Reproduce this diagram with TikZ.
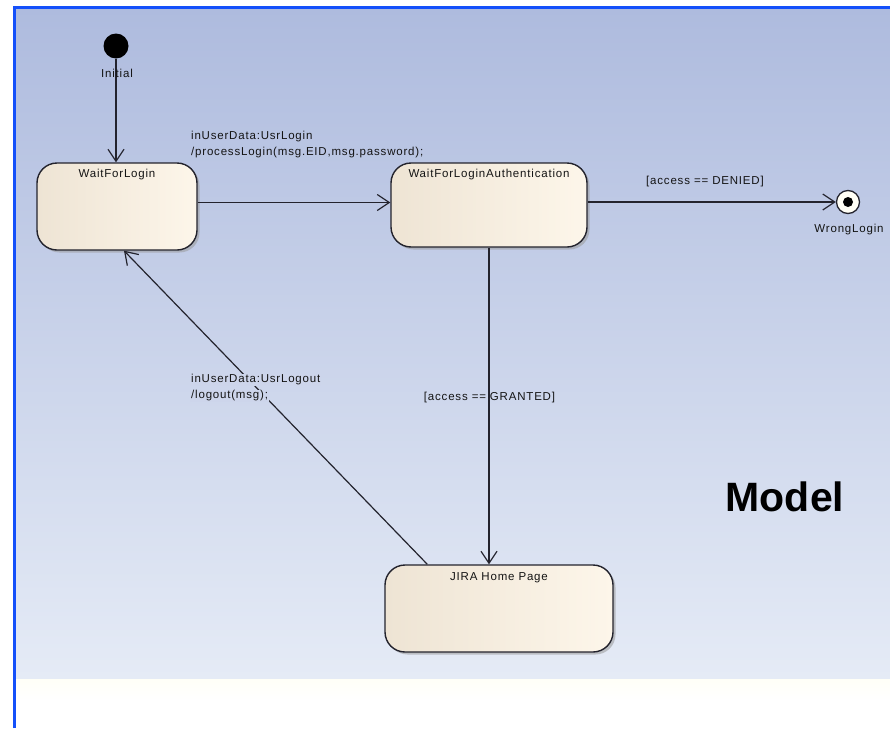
\documentclass[tikz,border=0pt]{standalone}
\usepackage{fontspec}
\setmainfont{Liberation Sans}
\newfontfamily\diagfont[LetterSpace=7]{Liberation Sans}
\usetikzlibrary{arrows.meta,shadows}

\definecolor{bgtop}{RGB}{174,187,222}
\definecolor{bgbot}{RGB}{229,235,246}
\definecolor{frameblue}{RGB}{20,80,250}
\definecolor{boxleft}{RGB}{238,228,212}
\definecolor{boxright}{RGB}{253,246,234}
\definecolor{edge}{RGB}{35,35,45}
\definecolor{ink}{RGB}{20,20,20}
\definecolor{labelbg}{RGB}{205,213,235}
\definecolor{cream}{RGB}{255,255,247}

\begin{document}
\begin{tikzpicture}[x=1pt,y=-1pt,
  state/.style={rectangle, rounded corners=20pt, draw=edge, line width=1.4pt,
    left color=boxleft, right color=boxright, inner sep=0pt,
    drop shadow={shadow xshift=2.5pt, shadow yshift=-2.5pt, fill=black!40, opacity=.55}},
  txt/.style={text=ink, inner sep=1pt, font=\diagfont\fontsize{11.5}{16}\selectfont},
  conn/.style={draw=edge, line width=1.2pt, -{Straight Barb[length=12pt,width=16pt,line width=1.2pt]}},
  pseudo/.style={circle, inner sep=0pt}]

% canvas, gradient panel and frame
\useasboundingbox (0,0) rectangle (890,728);
\fill[white] (0,0) rectangle (890,728);
\fill[top color=cream, bottom color=white] (14,678) rectangle (890,700);
\fill[top color=bgtop, bottom color=bgbot] (14,8) rectangle (890,678);
\draw[frameblue, line width=3pt] (14.5,728) -- (14.5,7.5) -- (890,7.5);

% states
\node[state, minimum width=160pt, minimum height=87pt] (wfl) at (117,206.5) {};
\node[state, minimum width=196pt, minimum height=84pt] (wfla) at (489,205) {};
\node[state, minimum width=228pt, minimum height=87pt] (jira) at (499,608.5) {};

\node[txt] (wfl-t) at (117,175) {WaitForLogin};
\node[txt] (wfla-t) at (489,175) {WaitForLoginAuthentication};
\node[txt] (jira-t) at (499,578) {JIRA Home Page};

% pseudo states
\node[pseudo, fill=black, minimum size=25pt] (init) at (116,46) {};
\node[pseudo, draw=edge, line width=1.3pt, fill=white!96!yellow, minimum size=23pt] (final) at (848,202) {};
\node[pseudo, fill=black, minimum size=10pt] (final-dot) at (final) {};

% transitions
\draw[conn] (init.south) -- (init.south |- wfl.north);
\draw[conn] ([yshift=4pt]wfl.east) -- ([yshift=4pt]wfl.east -| wfla.west);
\draw[conn] (wfla.east |- final) -- (final.west);
\draw[conn] (wfla.south) -- (wfla.south |- jira.north);
\draw[conn] ([xshift=43pt]jira.north west) -- ([xshift=7pt]wfl.south);

% labels
\node[txt] (init-l) at (117,73) {Initial};
\node[txt] (final-l) at (849,230) {WrongLogin};
\node[txt, anchor=west] (login-a) at (190,137) {inUserData:UsrLogin};
\node[txt, anchor=west] (login-b) at (190,153) {/processLogin(msg.EID,msg.password);};
\node[txt] (denied) at (705,182) {[access == DENIED]};
\node[txt] (granted) at (489.5,398) {[access == GRANTED]};
\node[txt, anchor=west, fill=labelbg] (logout-a) at (190,380) {inUserData:UsrLogout};
\node[txt, anchor=west, fill=labelbg] (logout-b) at (190,396) {/logout(msg);};

\node[font=\bfseries\fontsize{41}{41}\selectfont, text=black] (model) at (785,497) {Model};
\end{tikzpicture}
\end{document}
